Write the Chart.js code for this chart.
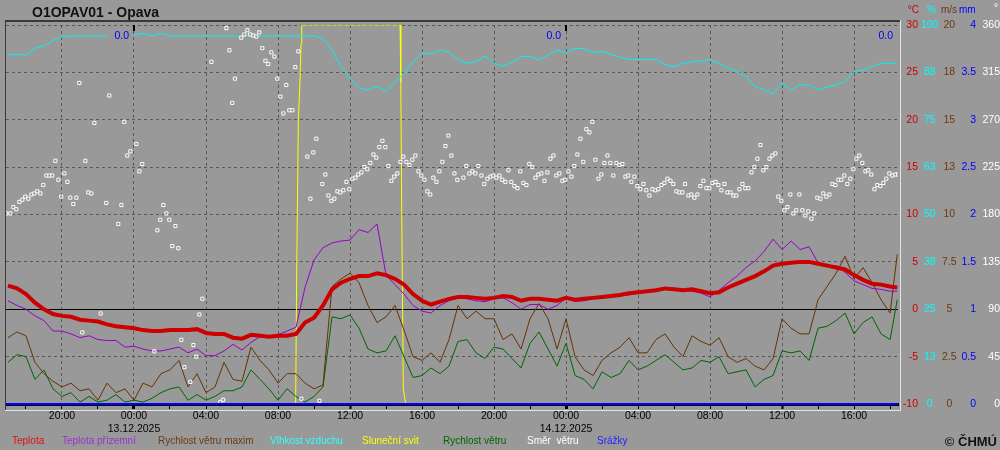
<!DOCTYPE html>
<html>
<head>
<meta charset="utf-8">
<title>O1OPAV01 - Opava</title>
<script src="https://cdn.jsdelivr.net/npm/chart.js"></script>
<style>
  html, body { margin: 0; padding: 0; background: #999999; }
  #wrap { width: 1000px; height: 450px; }
</style>
</head>
<body>
<div id="wrap"><canvas id="meteo" width="1000" height="450"></canvas></div>
<script>
// cas v hodinach od 12.12.2025 00:00
const times = [17, 17.5, 18, 18.5, 19, 19.5, 20, 20.5, 21, 21.5, 22, 22.5, 23, 23.5, 24, 24.5, 25, 25.5, 26, 26.5, 27, 27.5, 28, 28.5, 29, 29.5,
  30, 30.5, 31, 31.5, 32, 32.5, 33, 33.5, 34, 34.5, 35, 35.5, 36, 36.5, 37, 37.5, 38, 38.5, 39, 39.5, 40, 40.5, 41, 41.5, 42,
  42.5, 43, 43.5, 44, 44.5, 45, 45.5, 46, 46.5, 47, 47.5, 48, 48.5, 49, 49.5, 50, 50.5, 51, 51.5, 52, 52.5, 53, 53.5, 54, 54.5,
  55, 55.5, 56, 56.5, 57, 57.5, 58, 58.5, 59, 59.5, 60, 60.5, 61, 61.5, 62, 62.5, 63, 63.5, 64, 64.5, 65, 65.5, 66, 66.4];

const teplota = [2.5, 2.2, 1.6, 0.7, 0.0, -0.5, -0.7, -0.8, -1.1, -1.2, -1.3, -1.6, -1.8, -1.9, -2.0, -2.2, -2.3, -2.3, -2.2, -2.2, -2.2, -2.1, -2.5, -2.6, -2.6, -3.0,
  -3.1, -2.7, -2.8, -2.9, -2.8, -2.8, -2.6, -1.4, -0.9, 0.4, 2.1, 2.8, 3.2, 3.5, 3.5, 3.8, 3.6, 3.2, 2.6, 1.6, 0.9, 0.5, 0.8, 1.1, 1.3,
  1.3, 1.2, 1.1, 1.2, 1.4, 1.3, 0.9, 1.1, 1.1, 1.0, 0.9, 1.2, 1.0, 1.1, 1.2, 1.3, 1.4, 1.5, 1.7, 1.8, 1.9, 2.0, 2.2, 2.1, 2.0,
  2.1, 1.9, 1.7, 1.8, 2.3, 2.7, 3.1, 3.5, 4.0, 4.6, 4.8, 4.9, 5.0, 5.0, 4.8, 4.6, 4.4, 4.2, 3.6, 3.1, 2.7, 2.6, 2.4, 2.3];

const teplotaPrizemni = [0.9, 0.4, 0.0, -0.7, -1.2, -2.3, -2.3, -2.6, -3.0, -2.8, -3.2, -3.3, -3.3, -4.0, -3.9, -4.2, -4.4, -4.4, -4.2, -4.0, -4.6, -4.2, -4.9, -4.9, -4.4, -3.7,
  -4.3, -3.5, -2.9, -2.8, -2.7, -2.3, -1.9, 2.3, 5.2, 6.5, 7.0, 7.2, 7.3, 8.4, 8.1, 9.0, 3.6, 2.6, 1.6, 0.4, -0.2, -0.4, 0.4, 0.9, 1.2,
  1.1, 0.9, 0.8, 1.1, 1.2, 0.7, 0.0, 0.5, 0.5, 0.0, 0.4, 1.2, 0.8, 0.9, 1.1, 1.2, 1.3, 1.4, 1.5, 1.7, 1.8, 1.9, 2.1, 2.0, 2.0,
  1.9, 1.7, 1.3, 2.0, 2.8, 3.5, 4.4, 5.1, 6.1, 7.4, 6.3, 7.2, 6.3, 6.6, 4.9, 4.6, 4.6, 3.9, 3.0, 2.6, 2.2, 2.1, 1.9, 1.9];

const vitrMax = [3.5, 3.8, 3.6, 2.2, 1.6, 1.2, 0.9, 1.1, 0.7, 0.8, 0.2, 1.1, 0.6, 0.8, 0.2, 1.1, 0.9, 1.6, 1.8, 2.3, 0.9, 1.6, 0.6, 0.9, 2.2, 1.3,
  1.2, 3.0, 2.3, 1.8, 1.1, 1.6, 1.6, 1.1, 0.8, 1.0, 6.2, 6.6, 6.9, 6.4, 5.2, 4.3, 4.6, 5.2, 3.9, 2.5, 2.3, 2.7, 2.2, 3.4, 5.2,
  4.5, 4.9, 4.5, 4.5, 3.4, 3.7, 2.9, 4.5, 5.3, 4.5, 2.9, 4.5, 2.5, 1.8, 1.5, 2.3, 2.7, 3.0, 3.5, 2.7, 2.7, 3.4, 3.7, 3.0, 2.5,
  3.6, 3.3, 3.1, 3.5, 2.5, 2.2, 2.4, 2.0, 1.8, 2.4, 4.5, 4.0, 3.7, 3.7, 5.5, 6.2, 6.9, 7.8, 6.6, 7.2, 6.4, 5.5, 4.8, 7.9];

const vlhkost = [92.1, 92.3, 92.1, 93.8, 94.5, 95.9, 96.9, 97.1, 97.1, 97.1, 97.1, 97.1, 97.1, 97.1, 97.4, 97.8, 97.1, 97.8, 97.1, 97.1, 97.1, 97.1, 97.1, 97.1, 97.1, 97.1,
  97.1, 97.1, 97.1, 97.1, 97.1, 97.1, 97.1, 97.1, 97.1, 96.5, 93.4, 89.0, 85.9, 83.3, 82.9, 83.7, 82.4, 84.8, 87.3, 90.3, 92.5, 92.4, 93.4, 92.8, 90.8,
  89.9, 90.3, 91.8, 89.9, 89.2, 90.1, 91.7, 91.7, 90.8, 92.1, 93.4, 92.7, 93.8, 93.8, 92.7, 93.0, 92.3, 91.5, 90.9, 90.9, 90.9, 90.9, 89.5, 89.0, 89.9,
  90.3, 90.6, 90.8, 89.9, 88.6, 87.7, 86.4, 83.7, 82.9, 81.8, 84.6, 82.9, 84.2, 84.2, 82.9, 83.7, 84.2, 85.1, 87.7, 88.1, 89.0, 89.9, 89.9, 89.9];

const vitr = [2.2, 2.6, 2.5, 1.3, 1.8, 0.8, 0.4, 0.6, 0.1, 0.4, 0.1, 0.2, 0.5, 0.1, 0.2, 0.1, 0.3, 0.6, 0.8, 0.9, 0.2, 0.5, 0.2, 0.4, 0.7, 0.7,
  0.9, 1.8, 1.3, 0.8, 0.2, 0.8, 0.4, 0.1, 0.4, 0.9, 4.6, 4.5, 4.7, 4.0, 2.9, 2.7, 2.8, 3.6, 2.5, 1.4, 1.5, 1.9, 1.6, 2.0, 3.3,
  3.4, 2.7, 2.4, 3.0, 2.9, 2.4, 1.9, 3.2, 3.8, 2.9, 2.0, 3.2, 1.5, 1.3, 0.8, 1.7, 1.4, 1.6, 2.3, 1.8, 2.0, 2.3, 2.6, 2.2, 1.8,
  1.9, 2.3, 2.2, 2.5, 1.6, 1.7, 1.8, 0.9, 1.3, 1.5, 2.8, 2.7, 2.8, 2.3, 4.0, 4.1, 4.4, 4.8, 3.7, 4.3, 4.6, 3.7, 3.4, 5.5];

// slunecni svit (min / 10 min)
const svitTimes = [16.9, 32.98, 33.04, 33.13, 33.22, 33.28, 33.32, 38.78, 38.82, 38.87, 38.96, 39.09, 66.44];
const svit = [0, 0, 3.6, 7.5, 8.5, 9.5, 10, 10, 8.5, 5.2, 0.4, 0, 0];

// smer vetru (10 min)
const smerTimes = [16.9, 17.13, 17.3, 17.46, 17.63, 17.8, 17.96, 18.13, 18.3, 18.46, 18.63, 18.8, 18.96, 19.13, 19.3, 19.46, 19.63, 19.8, 19.96,
  20.13, 20.3, 20.46, 20.63, 20.8, 20.96, 21.13, 21.3, 21.46, 21.63, 21.8, 22.15, 22.46, 22.63, 23.13, 23.3, 23.46, 23.63, 23.8,
  24.13, 24.3, 24.46, 25.13, 25.3, 25.46, 25.63, 25.8, 25.96, 26.13, 26.3, 26.46, 26.63, 26.8, 27.13, 27.3, 27.46, 27.63, 27.8,
  28.3, 28.8, 28.96, 29.13, 29.3, 29.46, 29.61,
  29.96, 30.13, 30.3, 30.46, 30.63, 30.8, 30.96, 31.13, 31.3, 31.46, 31.63, 31.8, 31.96, 32.13, 32.3, 32.46, 32.63, 32.8, 32.96,
  33.13, 33.3, 33.63, 33.8, 33.96, 34.13, 34.3, 34.46, 34.63, 34.8, 34.96, 35.13, 35.3, 35.46, 35.63, 35.8, 35.96, 36.13, 36.3,
  36.46, 36.63, 36.8, 36.96, 37.13, 37.3, 37.46, 37.63, 37.8, 37.96, 38.13, 38.3, 38.46, 38.63, 38.8, 38.96, 39.13, 39.3, 39.46,
  39.63, 39.8, 39.96, 40.13, 40.3, 40.46, 40.63, 40.8, 40.96, 41.13, 41.3, 41.46, 41.63, 41.8, 41.96,
  42.3, 42.46, 42.63, 42.8, 42.96, 43.13, 43.3, 43.46, 43.63, 43.8, 43.96, 44.13, 44.3, 44.46, 44.63, 44.8, 44.96, 45.13, 45.3,
  45.46, 45.63, 45.8, 45.96, 46.13, 46.3, 46.46, 46.63, 46.8, 46.96, 47.13, 47.3, 47.46, 47.63, 47.8, 47.96, 48.13, 48.3, 48.46,
  48.63, 48.8, 48.96, 49.13, 49.3, 49.46, 49.63, 49.8, 49.96, 50.13, 50.3, 50.46, 50.63, 50.8, 50.96, 51.13, 51.3, 51.46, 51.63,
  51.8, 51.96, 52.13, 52.3, 52.46, 52.63, 52.8, 52.96, 53.13, 53.3, 53.46, 53.63, 53.8, 53.96, 54.13, 54.3, 54.46, 54.61,
  54.8, 54.96, 55.13, 55.3, 55.46, 55.63, 55.8, 55.96, 56.13, 56.3, 56.46, 56.63, 56.8, 56.96, 57.13, 57.3, 57.46, 57.63, 57.8,
  57.96, 58.13, 58.3, 58.46, 58.63, 58.8, 58.96, 59.13, 59.3, 59.46, 59.63, 59.79, 59.96, 60.13, 60.3, 60.46, 60.63, 60.79, 60.96,
  61.13, 61.29, 61.46, 61.63, 61.79, 61.96, 62.13, 62.29, 62.46, 62.63, 62.79, 62.96, 63.13, 63.29, 63.46, 63.63, 63.79, 63.96,
  64.13, 64.29, 64.46, 64.63, 64.79, 64.96, 65.13, 65.29, 65.46, 65.63, 65.79, 65.96, 66.13, 66.29, 66.44];
const smer = [181, 181, 187, 185, 192, 194, 197, 195, 199, 200, 202, 200, 208, 217, 217, 217, 231, 213, 197,
  219, 211, 196, 190, 196, 305, 68, 231, 201, 200, 267, 86, 191, 293, 171, 189, 268, 236, 240,
  247, 221, 228, 50, 165, 175, 189, 181, 175, 150, 169, 148, 61, 35, 21, 56, 45, 85, 100,
  325, 2, 4, 357, 336, 286, 309,
  348, 351, 355, 351, 350, 349, 353, 338, 326, 323, 334, 330, 309, 292, 276, 303, 279, 279, 320,
  335, 5, 235, 195, 239, 252, 3, 209, 218, 198, 193, 195, 202, 201, 203, 211, 204, 214, 215,
  218, 220, 225, 223, 229, 237, 234, 244, 250, 244, 226, 212, 216, 219, 230, 235, 230, 227, 232,
  236, 221, 217, 213, 202, 199, 215, 211, 221, 230, 245, 255, 236, 219, 213,
  215, 226, 219, 221, 219, 226, 217, 209, 214, 216, 217, 215, 217, 213, 211, 222, 211, 207, 205,
  221, 210, 208, 228, 225, 215, 218, 219, 212, 220, 233, 236, 217, 219, 212, 213, 221, 216, 226,
  237, 252, 230, 261, 258, 268, 232, 214, 218, 229, 236, 229, 217, 229, 227, 228, 216, 217, 211,
  216, 207, 204, 209, 203, 198, 204, 203, 204, 208, 210, 214, 212, 209, 202, 201, 201, 209,
  198, 199, 196, 199, 207, 212, 205, 205, 210, 211, 208, 203, 209, 201, 201, 198, 198, 204, 209,
  205, 205, 220, 225, 233, 246, 222, 225, 233, 236, 238, 197, 193, 184, 187, 199, 181, 184, 199,
  184, 179, 183, 176, 181, 196, 195, 200, 197, 199, 209, 208, 213, 213, 217, 209, 214, 223,
  233, 236, 229, 221, 222, 218, 204, 208, 207, 210, 214, 219, 217, 218, 218];

// srazky (mm) a denni uhrny
const srazkyTimes = [16.89, 24, 48, 66.44];
const srazky = [0, 0, 0, 0];
const uhrnKonec = [24, 48, 66.44];
const uhrn = ['0.0', '0.0', '0.0'];

const dny = ['12.12.2025', '13.12.2025', '14.12.2025'];

const legenda = ['Teplota', 'Teplota přízemní', 'Rychlost větru maxim', 'Vlhkost vzduchu', 'Sluneční svit', 'Rychlost větru', 'Směr  větru', 'Srážky'];
const legendaBarvy = ['#dd1111', '#9933cc', '#6b3a10', '#33ffff', '#ffff00', '#006600', '#ffffff', '#2222ff'];
const legendaX = [12, 62, 158, 270, 362, 443, 527, 597];

const FONT = "'Liberation Sans', Arial, sans-serif";
const tickFont = { family: FONT, size: 10.5 };

const pts = (xs, ys) => xs.map((x, i) => ({ x: x, y: ys[i] }));

function yAxis(min, max, step, color, align, pad, width, weight, fmt) {
  return {
    position: 'right', weight: weight, min: min, max: max,
    ticks: { stepSize: step, color: color, crossAlign: align, padding: pad, font: tickFont, autoSkip: false, callback: fmt },
    grid: { display: false, drawTicks: false },
    border: { display: false },
    afterFit: s => { s.width = width; }
  };
}

const decor = {
  id: 'decor',
  beforeDraw(chart) {
    const c = chart.ctx;
    c.save();
    c.fillStyle = '#999999';
    c.fillRect(0, 0, chart.width, chart.height);
    c.restore();
  },
  afterDraw(chart) {
    const c = chart.ctx;
    const a = chart.chartArea;
    const sx = chart.scales.x;
    c.save();

    // ramecek
    c.fillStyle = '#3a3a3a';
    c.fillRect(a.left - 1, a.top - 5, a.right - a.left + 3, 2);
    c.fillRect(a.left - 1, a.top - 5, 1, a.bottom - a.top + 11);
    c.fillStyle = '#e4e4e4';
    c.fillRect(a.right + 2, a.top - 5, 1, a.bottom - a.top + 12);
    c.fillRect(a.left - 1, a.bottom + 6, a.right - a.left + 4, 1);

    // pulnoc nahore
    c.fillStyle = '#000';
    [24, 48].forEach(v => {
      const px = Math.round(sx.getPixelForValue(v));
      c.fillRect(px - 1, a.top, 2, 6);
    });

    // denni uhrny srazek
    c.font = '10.5px ' + FONT;
    c.textAlign = 'right';
    c.textBaseline = 'alphabetic';
    uhrnKonec.forEach((v, i) => {
      const px = sx.getPixelForValue(v);
      const w = c.measureText(uhrn[i]).width;
      c.fillStyle = '#999999';
      c.fillRect(px - 5 - w - 8, a.top + 3, w + 12, 14);
      c.fillStyle = '#0000ee';
      c.fillText(uhrn[i], px - 5, a.top + 14);
    });

    // titulek
    c.textAlign = 'left';
    c.fillStyle = '#111';
    c.font = 'bold 14px ' + FONT;
    c.fillText('O1OPAV01 - Opava', 32, 17);

    // jednotky os
    c.font = '10px ' + FONT;
    const s = chart.scales;
    c.fillStyle = '#cc0000'; c.textAlign = 'right'; c.fillText('°C', s.yT.right + 1, 13);
    c.textAlign = 'left';
    c.fillStyle = '#00ffff'; c.fillText('%', s.yH.left + 9, 13);
    c.fillStyle = '#6b3a10'; c.fillText('m/s', s.yW.left, 13);
    c.fillStyle = '#0000ff'; c.fillText('mm', s.yP.left, 13);
    c.fillStyle = '#ffffff'; c.fillText('°', s.yD.left + 18, 11);

    // legenda
    c.textBaseline = 'middle';
    legenda.forEach((t, i) => {
      c.fillStyle = legendaBarvy[i];
      c.fillText(t, legendaX[i], 441);
    });

    // copyright
    c.fillStyle = '#111';
    c.textAlign = 'right';
    c.textBaseline = 'alphabetic';
    c.font = 'bold 13px ' + FONT;
    c.fillText('© ČHMÚ', 997, 446);
    c.restore();
  }
};

new Chart(document.getElementById('meteo'), {
  type: 'line',
  data: {
    datasets: [
      { label: 'Teplota', data: pts(times, teplota), yAxisID: 'yT', borderColor: '#cc0000', borderWidth: 4, order: 0 },
      { label: 'Teplota přízemní', data: pts(times, teplotaPrizemni), yAxisID: 'yT', borderColor: '#9900cc', borderWidth: 1, order: 3 },
      { label: 'Rychlost větru maxim', data: pts(times, vitrMax), yAxisID: 'yW', borderColor: '#663300', borderWidth: 1, order: 4 },
      { label: 'Vlhkost vzduchu', data: pts(times, vlhkost), yAxisID: 'yH', borderColor: '#00f2f2', borderWidth: 1, order: 6 },
      { label: 'Sluneční svit', data: pts(svitTimes, svit), yAxisID: 'ySun', borderColor: '#ffff00', borderWidth: 1, order: 7 },
      { label: 'Rychlost větru', data: pts(times, vitr), yAxisID: 'yW', borderColor: '#006600', borderWidth: 1, order: 5 },
      { label: 'Směr větru', data: pts(smerTimes, smer), yAxisID: 'yD', showLine: false, pointStyle: 'rect', pointRadius: 2.2,
        pointBorderWidth: 1, pointBorderColor: '#ffffff', pointBackgroundColor: '#8c8c8c', order: 2 },
      { label: 'Srážky', data: pts(srazkyTimes, srazky), yAxisID: 'yP', borderColor: '#0000ff', borderWidth: 2, clip: 3, order: 1 }
    ]
  },
  options: {
    responsive: false,
    animation: false,
    devicePixelRatio: 1,
    layout: { padding: { top: 25, left: 0, right: 0, bottom: 16 } },
    elements: { line: { tension: 0 }, point: { radius: 0 } },
    plugins: { legend: { display: false }, tooltip: { enabled: false }, title: { display: false } },
    scales: {
      x: {
        type: 'linear', min: 16.89, max: 66.44,
        ticks: {
          stepSize: 2, includeBounds: false, autoSkip: false, maxRotation: 0, padding: 1, color: '#000', font: tickFont,
          callback: v => {
            if (v % 4 !== 0) return '';
            const hh = v % 24;
            const lab = String(hh).padStart(2, '0') + ':00';
            return hh === 0 ? [lab, dny[v / 24]] : lab;
          }
        },
        grid: {
          color: c => (c.tick && c.tick.value % 4 === 0) ? '#5a5a5a' : 'transparent',
          lineWidth: 1, tickLength: 5, tickColor: '#000',
          tickWidth: c => !c.tick ? 1 : (c.tick.value % 24 === 0 ? 3 : (c.tick.value % 12 === 0 ? 2 : 1))
        },
        border: { display: true, color: '#000', width: 3, dash: [3, 3] },
        afterFit: s => { s.height = 30; }
      },
      ySun: {
        position: 'left', min: 0, max: 10,
        ticks: { display: false },
        grid: { display: false, drawTicks: false },
        border: { display: false },
        afterFit: s => { s.width = 6; }
      },
      yT: {
        position: 'right', weight: 1, min: -10, max: 30,
        ticks: { stepSize: 5, color: '#cc0000', crossAlign: 'far', padding: 5, font: tickFont, autoSkip: false },
        grid: {
          drawTicks: false, lineWidth: 1,
          color: c => {
            const v = c.tick ? c.tick.value : null;
            if (v === 0) return '#000';
            if (v === -10) return 'transparent';
            return '#5a5a5a';
          }
        },
        border: { display: false, dash: c => (c.tick && c.tick.value === 0) ? [] : [3, 3] },
        afterFit: s => { s.width = 20; }
      },
      yH: yAxis(0, 100, 12.5, '#00ffff', 'center', 3, 23, 2, v => Math.round(v)),
      yW: yAxis(0, 20, 2.5, '#6b3a10', 'center', 1, 18, 3, v => v >= 10 ? Math.round(v) : v),
      yP: yAxis(0, 4, 0.5, '#0000ff', 'far', 1, 17, 4, v => v),
      yD: yAxis(0, 360, 45, '#ffffff', 'far', 0, 24, 5, v => v)
    }
  },
  plugins: [decor]
});
</script>
</body>
</html>
